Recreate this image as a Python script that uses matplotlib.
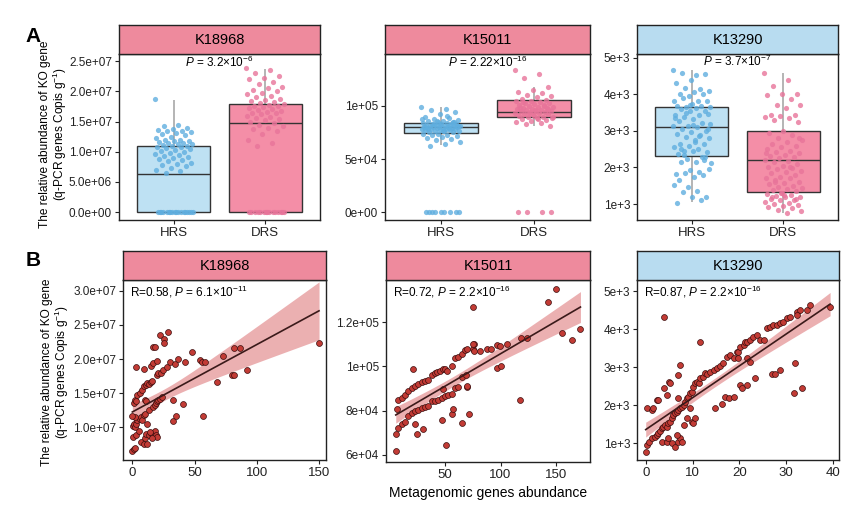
import numpy as np
import matplotlib
matplotlib.use('Agg')
import matplotlib.pyplot as plt

plt.rcParams['font.family'] = ['Liberation Sans', 'DejaVu Sans']
plt.rcParams['mathtext.fontset'] = 'custom'
plt.rcParams['mathtext.rm'] = 'Liberation Sans'
plt.rcParams['mathtext.it'] = 'Liberation Sans:italic'

# ---- data ----
groups = ['HRS', 'DRS']
genes = ['K18968', 'K15011', 'K13290']

# box stats: whislo, q1, median, q3, whishi
box_k18968 = {'HRS': [0, 0, 6.3e6, 1.09e7, 1.86e7], 'DRS': [0, 0, 1.48e7, 1.79e7, 2.37e7]}
box_k15011 = {'HRS': [6.3e4, 7.48e4, 8.02e4, 8.42e4, 9.9e4], 'DRS': [8.1e4, 8.99e4, 9.46e4, 1.057e5, 1.18e5]}
box_k13290 = {'HRS': [1045, 2310, 3109, 3641, 4666], 'DRS': [754, 1323, 2201, 3008, 4592]}

# jittered points (top row)
pts_k18968_hrs = [1.87, 1.44, 1.42, 1.40, 1.38, 1.36, 1.35, 1.34, 1.33, 1.31, 1.30, 1.28, 1.25, 1.22,
                  1.20, 1.19, 1.18, 1.17, 1.16, 1.15, 1.14, 1.13, 1.12, 1.11, 1.10, 1.09, 1.08, 1.07,
                  1.06, 1.05, 1.03, 1.02, 1.00, 0.98, 0.96, 0.95, 0.93, 0.92, 0.90, 0.88, 0.86, 0.84,
                  0.82, 0.80, 0.78, 0.76, 0.73, 0.70, 0.68, 0.65] + [0] * 18
pts_k18968_drs = [2.38, 2.35, 2.30, 2.25, 2.22, 2.20, 2.15, 2.12, 2.08, 2.05, 2.02, 2.00, 1.98, 1.95,
                  1.92, 1.90, 1.88, 1.86, 1.84, 1.82, 1.80, 1.79, 1.78, 1.76, 1.75, 1.74, 1.72, 1.70,
                  1.69, 1.68, 1.66, 1.65, 1.64, 1.62, 1.60, 1.58, 1.56, 1.55, 1.52, 1.50, 1.48, 1.45,
                  1.42, 1.40, 1.38, 1.35, 1.30, 1.20, 1.15, 1.10] + [0] * 15
pts_k15011_hrs = [9.9, 9.7, 9.6, 9.4, 9.2, 9.0, 8.9, 8.8, 8.7, 8.6, 8.6, 8.5, 8.5, 8.4, 8.4, 8.3, 8.3,
                  8.3, 8.2, 8.2, 8.2, 8.1, 8.1, 8.1, 8.1, 8.0, 8.0, 8.0, 8.0, 8.0, 7.9, 7.9, 7.9, 7.9,
                  7.8, 7.8, 7.8, 7.8, 7.7, 7.7, 7.7, 7.6, 7.6, 7.6, 7.5, 7.5, 7.4, 7.4, 7.3, 7.3, 7.2,
                  7.1, 7.0, 6.9, 6.8, 6.6, 6.4, 6.2, 8.5, 8.2, 8.0, 7.9, 8.3, 8.1, 7.6, 7.8, 8.4, 8.6,
                  8.8, 9.1] + [0] * 9
pts_k15011_drs = [13.4, 13.0, 12.6, 11.8, 11.5, 11.3, 11.2, 11.0, 10.9, 10.8, 10.7, 10.6, 10.5, 10.5,
                  10.4, 10.3, 10.3, 10.2, 10.1, 10.0, 10.0, 9.9, 9.9, 9.8, 9.8, 9.7, 9.7, 9.6, 9.6,
                  9.5, 9.5, 9.5, 9.4, 9.4, 9.3, 9.3, 9.2, 9.2, 9.1, 9.1, 9.0, 9.0, 8.9, 8.9, 8.8, 8.7,
                  8.6, 8.5, 8.4, 8.3, 8.1, 9.6, 9.8, 10.1, 9.3, 9.0, 8.8, 10.4, 9.7, 9.2] + [0] * 4
pts_k13290_hrs = [4.66, 4.53, 4.57, 4.55, 4.39, 4.32, 4.14, 4.16, 4.08, 4.06, 4.0, 4.0, 3.96, 3.82,
                  3.82, 3.9, 3.82, 3.73, 3.69, 3.69, 3.66, 3.64, 3.62, 3.6, 3.55, 3.55, 3.42, 3.42,
                  3.37, 3.46, 3.33, 3.28, 3.21, 3.14, 3.12, 3.1, 3.05, 3.0, 2.96, 2.92, 2.9, 2.83,
                  2.81, 2.74, 2.65, 2.63, 2.6, 2.57, 2.51, 2.45, 2.42, 2.45, 2.38, 2.29, 2.24, 2.12,
                  2.16, 2.14, 2.29, 1.92, 1.83, 1.88, 1.86, 1.95, 1.74, 1.65, 1.79, 1.47, 1.52, 1.36,
                  1.33, 1.2, 1.2, 1.04, 1.11, 3.5, 3.2, 2.7, 2.5, 2.2, 3.7, 3.35, 2.85, 2.35, 3.05, 3.15]
pts_k13290_drs = [4.59, 4.38, 4.22, 4.02, 4.0, 3.98, 3.88, 3.72, 3.7, 3.62, 3.42, 3.42, 3.4, 3.38,
                  3.35, 3.3, 3.25, 3.0, 2.95, 2.9, 2.8, 2.75, 2.7, 2.65, 2.6, 2.55, 2.5, 2.45, 2.42,
                  2.4, 2.35, 2.3, 2.28, 2.25, 2.2, 2.18, 2.15, 2.1, 2.05, 2.0, 1.98, 1.95, 1.9, 1.88,
                  1.85, 1.8, 1.75, 1.72, 1.7, 1.65, 1.6, 1.58, 1.55, 1.5, 1.48, 1.45, 1.4, 1.38, 1.35,
                  1.3, 1.28, 1.25, 1.22, 1.2, 1.18, 1.15, 1.12, 1.1, 1.05, 1.02, 1.0, 0.98, 0.95, 0.92,
                  0.88, 0.85, 0.8, 0.75, 1.2, 1.15, 1.3, 2.4, 2.0, 1.6, 2.8, 1.25]

p_top = ['3.2×10$^{-6}$', '2.22×10$^{-16}$', '3.7×10$^{-7}$']

# scatter (bottom row): metagenomic abundance vs q-PCR abundance
b1_x = [0, 1, 2, 0.5, 3, 5, 7, 9, 12, 10, 11, 13, 15, 17, 18, 19, 20, 14, 16,
        0.5, 1, 2, 3, 4, 6, 7, 8, 9, 10, 12, 13, 2, 0,
        1, 2, 3, 4, 6, 8, 9, 11, 12, 13, 15, 16, 17, 18, 19, 20, 21, 22, 24, 10, 11,
        3, 9, 15, 17, 19.5, 17, 18, 22, 25.5, 25.5, 29, 20, 21, 23, 25, 28, 30, 34, 37, 42,
        48, 54, 56, 58, 73, 82, 86.5, 92, 80, 82, 68, 150, 56.5, 40.5, 33, 33, 35]
b1_y = [0.65, 0.68, 0.70, 0.86, 0.88, 0.95, 0.78, 0.76, 0.75, 0.85, 0.90, 0.88, 0.92, 0.90, 0.95, 0.88, 0.86, 0.93, 0.85,
        1.02, 1.05, 1.00, 1.05, 1.10, 1.12, 1.15, 1.10, 1.18, 1.20, 1.05, 1.25, 1.15, 1.17,
        1.35, 1.40, 1.38, 1.48, 1.50, 1.55, 1.60, 1.62, 1.65, 1.63, 1.66, 1.68, 1.30, 1.33, 1.36, 1.38, 1.40, 1.42, 1.45, 1.40, 1.38,
        1.88, 1.86, 1.90, 1.94, 1.97, 2.17, 2.17, 2.35, 2.30, 2.24, 2.39, 1.76, 1.79, 1.80, 1.84, 1.89, 1.96, 1.92, 2.00, 1.96,
        2.10, 1.99, 1.96, 1.96, 2.05, 2.16, 2.16, 1.84, 1.76, 1.77, 1.67, 2.24, 1.17, 1.34, 1.40, 1.09, 1.16]

b2_x = [8, 11, 14, 17, 20, 23, 26, 29, 32, 35, 38, 41, 42.5, 45.5, 48, 50, 56, 59, 62, 65, 68, 70,
        75.5, 81.5, 87.5, 91.5, 96.5, 99.5, 105.5, 76, 76,
        8, 11, 14, 17, 20, 23, 26, 29, 32, 35, 38, 41, 44, 47, 50, 53, 56, 59, 62, 65, 69, 70,
        5.6, 5.6, 6.5, 21.5, 23, 24.5, 30, 47, 51, 56.5, 57.5, 65, 72, 69.5, 48.5, 51.5, 75.5,
        75.5, 96.5, 100, 117.5, 118.5, 123.5, 143, 150, 155, 164, 172]
b2_y = [8.46, 8.57, 8.70, 8.87, 9.00, 9.10, 9.20, 9.30, 9.35, 9.40, 9.60, 9.70, 9.75, 9.80, 9.88, 9.90, 10.0, 10.36, 10.44, 10.58, 10.73, 10.8,
        10.8, 10.7, 10.8, 10.8, 10.96, 10.9, 11.0, 11.0, 10.7,
        7.20, 7.40, 7.50, 7.75, 7.90, 7.97, 8.04, 8.10, 8.16, 8.20, 8.42, 8.45, 8.46, 8.57, 8.64, 8.69, 8.75, 9.00, 9.08, 9.50, 9.60, 9.08,
        6.18, 6.95, 8.09, 9.88, 7.37, 6.95, 7.15, 7.57, 6.45, 7.85, 8.07, 7.45, 7.85, 9.10, 8.99, 9.79, 12.7,
        11.0, 9.94, 10.0, 8.49, 11.3, 11.3, 12.9, 13.5, 11.5, 11.2, 11.7]

b3_x = [0, 0.36, 0.6, 1.3, 2, 2.4, 2.7, 3.1, 3.4, 3.8, 4.1, 4.5, 4.8, 5.2, 5.6, 5.9, 6.3, 6.6, 7, 7.3,
        7.7, 8.1, 8.4, 8.8, 9.1, 9.5, 9.8, 10.2, 10.6, 10.9, 11.3, 11.6, 12.3, 12.7, 13, 13.8, 14.5,
        15.2, 15.9, 16.6, 17.3, 18, 18.8, 19.5, 19.8, 20.2, 20.9, 21.2, 21.6, 22.3, 23, 23.7, 24.5,
        25.2, 25.9, 26.6, 27.3, 28, 28.7, 29.4, 30.2, 30.9, 32.3, 33, 34.4, 35.2, 39.4, 32.3,
        3.4, 4.5, 5.6, 6.3, 7, 7.3, 7.7, 4.8, 6.6, 8.1, 8.8, 9.5, 9.8, 10.2, 10.6,
        0.2, 1.3, 1.6, 2.4, 2.7, 3.9, 4.5, 5, 5.2, 6.8, 7.3, 7, 3.9, 11.6, 14.8, 16.3, 17, 17.7,
        18.8, 20.2, 20.5, 21.6, 22.3, 23.4, 26.9, 27.7, 28.7, 31.7, 31.9, 33.4, 19.8, 21.6]
b3_y = [781, 956, 1026, 1131, 1175, 1219, 1263, 1324, 1394, 1438, 1481, 1438, 1525, 1569, 1656, 1744,
        1788, 1832, 1875, 1919, 1963, 2007, 2094, 2182, 2225, 2313, 2357, 2488, 2575, 2619, 2575, 2707,
        2750, 2838, 2812, 2882, 2926, 2987, 3039, 3101, 3276, 3320, 3232, 3407, 3390, 3538, 3582, 3670,
        3670, 3713, 3801, 3845, 3713, 3713, 4020, 4063, 4107, 4107, 4151, 4195, 4300, 4326, 4457, 4501,
        4501, 4632, 4589, 4370,
        1044, 1044, 1000, 912, 1044, 1131, 1026, 1131, 1219, 1481, 1656, 1919, 1569, 1525, 1656,
        1919, 1875, 1919, 2138, 2138, 2444, 2269, 2619, 2593, 2794, 3057, 2182, 4326, 3652, 1937,
        2024, 2225, 2182, 2225, 2532, 2444, 2532, 3144, 2707, 2812, 2812, 2926, 2321, 3118, 2462,
        3232, 3232]

r_text = ['R=0.58, $\\mathit{P}$ = 6.1×10$^{-11}$', 'R=0.72, $\\mathit{P}$ = 2.2×10$^{-16}$',
          'R=0.87, $\\mathit{P}$ = 2.2×10$^{-16}$']

# ---- styling ----
W, H = 865, 507
strip_colors = ['#EE8A9D', '#EE8A9D', '#B8DCF0']
box_fill = {'HRS': '#BEE1F3', 'DRS': '#F48EA7'}
pt_color = {'HRS': '#5FAEDF', 'DRS': '#E8749A'}
edge = '#333333'

fig = plt.figure(figsize=(W / 100, H / 100), dpi=100)


def px_axes(left, top, width, height):
    return fig.add_axes([left / W, 1 - (top + height) / H, width / W, height / H])


def add_strip(left, top, width, height, label, color):
    s = px_axes(left, top, width, height)
    s.set_facecolor(color)
    s.set_xticks([])
    s.set_yticks([])
    for sp in s.spines.values():
        sp.set_linewidth(1.0)
        sp.set_color('#222222')
    s.text(0.5, 0.5, label, ha='center', va='center', fontsize=10.5, transform=s.transAxes)


def style_axes(ax):
    for sp in ax.spines.values():
        sp.set_linewidth(1.0)
        sp.set_color('#222222')
    ax.tick_params(direction='out', length=3, width=0.8, labelsize=8.5, colors='#222222', pad=2)


# ---- top row: boxplots ----
top_pos = [(119, 54, 201, 166), (385, 54, 205, 166), (637, 54, 201, 166)]
top_boxes = [box_k18968, box_k15011, box_k13290]
top_pts = [(pts_k18968_hrs, pts_k18968_drs), (pts_k15011_hrs, pts_k15011_drs),
           (pts_k13290_hrs, pts_k13290_drs)]
top_scale = [1e7, 1e4, 1e3]
top_ylim = [(-1.32e6, 2.62e7), (-7.5e3, 1.49e5), (565, 5100)]
top_yticks = [[0, 5e6, 1e7, 1.5e7, 2e7, 2.5e7], [0, 5e4, 1e5], [1e3, 2e3, 3e3, 4e3, 5e3]]
top_ylabels = [['0.0e+00', '5.0e+06', '1.0e+07', '1.5e+07', '2.0e+07', '2.5e+07'],
               ['0e+00', '5e+04', '1e+05'], ['1e+3', '2e+3', '3e+3', '4e+3', '5e+3']]
top_ptext_y = [0.952, 0.952, 0.958]

for i, gene in enumerate(genes):
    l, t, w, h = top_pos[i]
    ax = px_axes(l, t, w, h)
    add_strip(l, 25, w, t - 25, gene, strip_colors[i])
    for j, g in enumerate(groups):
        lo, q1, med, q3, hi = top_boxes[i][g]
        xpos = j + 1
        ax.vlines(xpos, lo, hi, color='#A8A8A8', lw=1.2, zorder=1)
        ax.bxp([{'whislo': lo, 'q1': q1, 'med': med, 'q3': q3, 'whishi': hi, 'fliers': []}],
               positions=[xpos], widths=0.8, patch_artist=True, showfliers=False, showcaps=False,
               boxprops=dict(facecolor=box_fill[g], edgecolor=edge, linewidth=1.0),
               whiskerprops=dict(linewidth=0), medianprops=dict(color=edge, linewidth=1.0),
               zorder=2)
        vals = np.array(top_pts[i][j]) * top_scale[i]
        n = len(vals)
        jit = ((np.arange(n) * 0.618034) % 1 - 0.5) * 0.42
        ax.scatter(xpos + jit, vals, s=14, color=pt_color[g], alpha=0.8, lw=0, zorder=3)
    ax.set_xlim(0.4, 2.6)
    ax.set_ylim(*top_ylim[i])
    ax.set_xticks([1, 2])
    ax.set_xticklabels(groups)
    ax.set_yticks(top_yticks[i])
    ax.set_yticklabels(top_ylabels[i])
    style_axes(ax)
    ax.tick_params(axis='x', labelsize=9.5)
    ax.text(0.5, top_ptext_y[i], '$\\mathit{P}$ = ' + p_top[i], transform=ax.transAxes,
            ha='center', va='center', fontsize=8.5)

# ---- bottom row: scatter + linear fit ----
bot_pos = [(123, 280, 203, 180), (386, 280, 204, 182), (637, 280, 202, 180)]
bot_x = [b1_x, b2_x, b3_x]
bot_y = [np.array(b1_y) * 1e7, np.array(b2_y) * 1e4, np.array(b3_y, dtype=float)]
bot_xlim = [(-7.5, 155.6), (-3.2, 180.6), (-1.86, 41.3)]
bot_ylim = [(0.521e7, 3.157e7), (5.67e4, 1.391e5), (562, 5289)]
bot_xticks = [[0, 50, 100, 150], [50, 100, 150], [0, 10, 20, 30, 40]]
bot_yticks = [[1e7, 1.5e7, 2e7, 2.5e7, 3e7], [6e4, 8e4, 1e5, 1.2e5], [1e3, 2e3, 3e3, 4e3, 5e3]]
bot_ylabels = [['1.0e+07', '1.5e+07', '2.0e+07', '2.5e+07', '3.0e+07'],
               ['6e+04', '8e+04', '1e+05', '1.2e+05'], ['1e+3', '2e+3', '3e+3', '4e+3', '5e+3']]

for i, gene in enumerate(genes):
    l, t, w, h = bot_pos[i]
    ax = px_axes(l, t, w, h)
    add_strip(l, 251, w, t - 251, gene, strip_colors[i])
    x = np.array(bot_x[i], dtype=float)
    y = bot_y[i]
    # linear fit with 95% confidence band (like geom_smooth(method='lm'))
    slope, icpt = np.polyfit(x, y, 1)
    n = len(x)
    resid = y - (slope * x + icpt)
    s_err = np.sqrt(np.sum(resid ** 2) / (n - 2))
    xs = np.linspace(x.min(), x.max(), 100)
    ys = slope * xs + icpt
    half = 1.98 * s_err * np.sqrt(1 / n + (xs - x.mean()) ** 2 / np.sum((x - x.mean()) ** 2))
    ax.fill_between(xs, ys - half, ys + half, color='#E8A2A4', alpha=0.85, lw=0, zorder=1)
    ax.scatter(x, y, s=18, color='#C23B35', edgecolors='#3A0D0D', linewidths=0.5, zorder=2)
    ax.plot(xs, ys, color='#3B1A1A', lw=1.2, zorder=3)
    ax.set_xlim(*bot_xlim[i])
    ax.set_ylim(*bot_ylim[i])
    ax.set_xticks(bot_xticks[i])
    ax.set_yticks(bot_yticks[i])
    ax.set_yticklabels(bot_ylabels[i])
    style_axes(ax)
    ax.tick_params(axis='x', labelsize=9.5)
    ax.text(0.035, 0.935, r_text[i], transform=ax.transAxes, ha='left', va='center', fontsize=8.5)

ylab = 'The relative abundance of KO gene\n(q-PCR genes Copis g$^{-1}$)'
fig.text(54 / W, 1 - 134 / H, ylab, rotation=90, ha='center', va='center', fontsize=8.6,
         linespacing=1.0)
fig.text(56 / W, 1 - 372 / H, ylab, rotation=90, ha='center', va='center', fontsize=8.6,
         linespacing=1.0)
fig.text(488 / W, 1 - 493 / H, 'Metagenomic genes abundance', ha='center', va='center', fontsize=10)
fig.text(33 / W, 1 - 36 / H, 'A', ha='center', va='center', fontsize=15, fontweight='bold')
fig.text(33 / W, 1 - 260 / H, 'B', ha='center', va='center', fontsize=15, fontweight='bold')

fig.savefig('out.png', dpi=100)
